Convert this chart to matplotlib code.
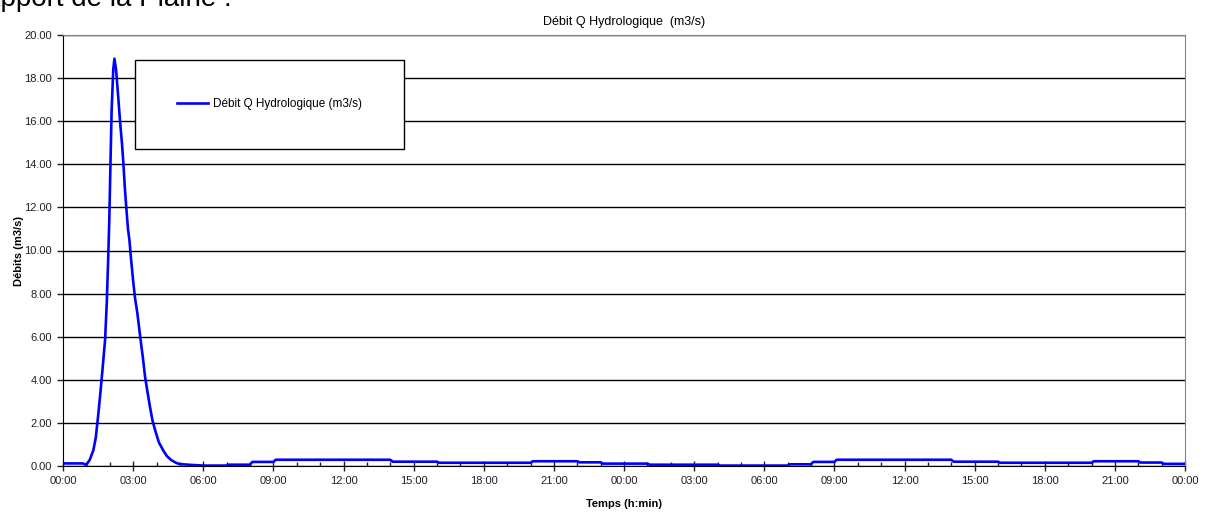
import numpy as np
import matplotlib
matplotlib.use("Agg")
import matplotlib.pyplot as plt
from matplotlib.patches import Rectangle

plt.rcParams["font.family"] = ["Liberation Sans", "DejaVu Sans"]

# temps (heures depuis 00:00 du jour 1) et debit (m3/s)
heures = [0.0, 0.85, 1.0, 1.15, 1.3, 1.4, 1.5, 1.6, 1.7, 1.8, 1.87, 1.93, 1.98,
          2.03, 2.08, 2.15, 2.2, 2.27, 2.35, 2.44, 2.52, 2.58, 2.64, 2.70, 2.78,
          2.84, 2.92, 3.0, 3.08, 3.18, 3.32, 3.42, 3.51, 3.62, 3.72, 3.83, 3.94,
          4.1, 4.29, 4.45, 4.65, 4.85, 5.0, 5.5, 6.0, 7.0, 7.05, 8.0, 8.1, 9.0,
          9.1, 14.0, 14.1, 16.0, 16.1, 20.0, 20.1, 22.0, 22.1, 23.0, 23.1, 25.0,
          25.1, 28.0, 28.1, 31.0, 31.1, 32.0, 32.1, 33.0, 33.1, 38.0, 38.1, 40.0,
          40.1, 44.0, 44.1, 46.0, 46.1, 47.0, 47.1, 48.0]
debit = [0.12, 0.12, 0.05, 0.3, 0.74, 1.3, 2.3, 3.4, 4.6, 5.85, 7.5, 9.5, 11.4,
         14.0, 16.5, 18.4, 18.9, 18.4, 17.3, 16.0, 15.0, 14.1, 13.0, 12.1, 11.0,
         10.5, 9.5, 8.6, 7.8, 7.1, 5.85, 5.0, 4.15, 3.4, 2.75, 2.1, 1.67,
         1.1, 0.72, 0.45, 0.26, 0.14, 0.09, 0.05, 0.02, 0.02, 0.06, 0.06, 0.19, 0.19,
         0.29, 0.29, 0.2, 0.2, 0.15, 0.15, 0.22, 0.22, 0.17, 0.17, 0.11, 0.11,
         0.06, 0.06, 0.02, 0.02, 0.08, 0.08, 0.19, 0.19, 0.29, 0.29, 0.2, 0.2,
         0.15, 0.15, 0.22, 0.22, 0.16, 0.16, 0.1, 0.1]

x_ticks = list(range(0, 49, 3))
x_labels = ["00:00", "03:00", "06:00", "09:00", "12:00", "15:00", "18:00", "21:00",
            "00:00", "03:00", "06:00", "09:00", "12:00", "15:00", "18:00", "21:00", "00:00"]
y_ticks = list(range(0, 21, 2))

fig = plt.figure(figsize=(12.11, 5.14), dpi=100)
ax = fig.add_axes([63/1211, 1-466/514, 1122/1211, 431/514])

ax.plot(heures, debit, color="#0000FF", lw=1.9, label="Débit Q Hydrologique (m3/s)", zorder=3)

ax.set_xlim(0, 48)
ax.set_ylim(0, 20)
ax.set_xticks(x_ticks)
ax.set_xticklabels(x_labels)
ax.set_xticks(range(0, 49), minor=True)
ax.set_yticks(y_ticks)
ax.set_yticklabels(["{:.2f}".format(v) for v in y_ticks])

ax.tick_params(axis="x", which="major", direction="inout", length=7, width=1,
               labelsize=8, colors="#202020", pad=4)
ax.tick_params(axis="x", which="minor", direction="in", length=3, width=1, color="#202020")
ax.tick_params(axis="y", which="major", direction="out", length=4, width=1,
               labelsize=8, colors="#202020", pad=4)

ax.set_axisbelow(True)
ax.yaxis.grid(True, color="black", lw=1)
ax.spines["left"].set_color("black")
ax.spines["bottom"].set_color("black")
ax.spines["top"].set_color("#808080")
ax.spines["right"].set_color("#808080")

ax.set_title("Débit Q Hydrologique  (m3/s)", fontsize=9, pad=7)
ax.set_xlabel("Temps (h:min)", fontsize=8, fontweight="bold", labelpad=9)
ax.set_ylabel("Débits (m3/s)", fontsize=8, fontweight="bold", labelpad=0)

# cadre de la legende
x0, x1 = (135-63)/1122, (404-63)/1122
y0, y1 = (466-149)/431, (466-60)/431
ax.add_patch(Rectangle((x0, y0), x1-x0, y1-y0, transform=ax.transAxes,
                       facecolor="white", edgecolor="black", lw=1, zorder=4))
leg = ax.legend(loc="center", bbox_to_anchor=((x0+x1)/2, (y0+y1)/2),
                frameon=False, fontsize=8.5, handlelength=2.6, handletextpad=0.4)
leg.set_zorder(5)

fig.text(-18/1211, 1-6/514, "Apport de la Plaine :", fontsize=20,
         va="baseline", ha="left")

plt.savefig("out.png", dpi=100)
